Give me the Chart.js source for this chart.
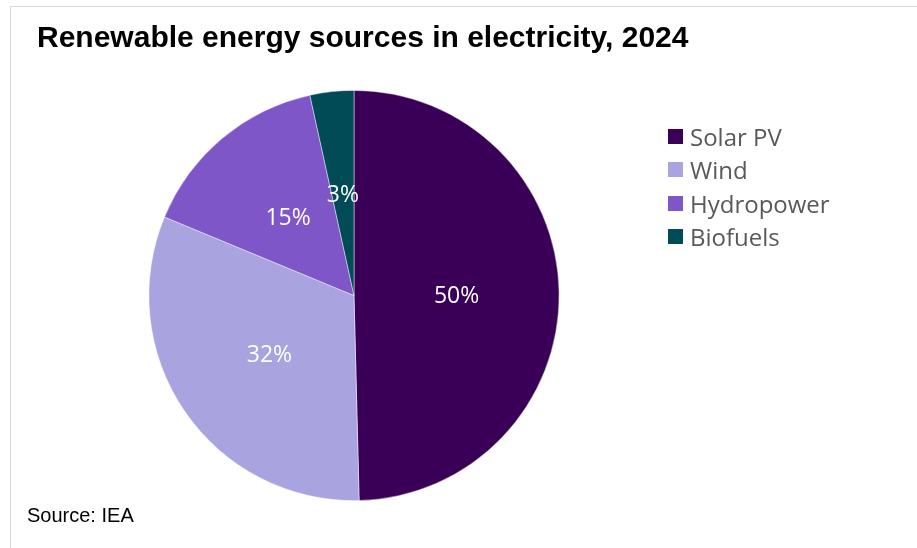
<!DOCTYPE html>
<html>
<head>
<meta charset="utf-8">
<script src="https://cdn.jsdelivr.net/npm/chart.js@4"></script>
<style>
  html, body { margin: 0; padding: 0; background: #fff; }
  #wrap { position: relative; width: 917px; height: 548px; overflow: hidden; }
  #frame { position: absolute; left: 10px; top: 6px; width: 940px; height: 600px; border: 1.5px solid #d9d9d9; box-sizing: border-box; }
  #title { position: absolute; left: 37px; top: 20px; font-family: "Liberation Sans", Arial, sans-serif; font-weight: bold; font-size: 30px; color: #000; white-space: nowrap; }
  #source { position: absolute; left: 27px; top: 504px; font-family: "Liberation Sans", Arial, sans-serif; font-size: 20px; color: #000; }
  #legend { position: absolute; left: 668px; top: 120px; font-family: "Open Sans", sans-serif; font-size: 24px; color: #595959; }
  .row { height: 33.3px; display: flex; align-items: center; }
  .sw { width: 15px; height: 15px; margin-right: 7px; }
  canvas { position: absolute; left: 0; top: 0; }
</style>
</head>
<body>
<div id="wrap">
  <div id="frame"></div>
  <canvas id="pieCanvas" width="917" height="548" style="width:917px;height:548px;"></canvas>
  <div id="title">Renewable energy sources in electricity, 2024</div>
  <div id="legend"></div>
  <div id="source">Source: IEA</div>
</div>
<script>
var categories = ['Solar PV', 'Wind', 'Hydropower', 'Biofuels'];
var shares = [49.6, 31.65, 15.3, 3.45];
var shareLabels = ['50%', '32%', '15%', '3%'];
var colors = ['#3a0057', '#a9a4e0', '#7f56c8', '#004b55'];

// legend built from the same arrays
var legendHtml = '';
for (var i in categories) {
  legendHtml += '<div class="row"><div class="sw" style="background:' + colors[i] + '"></div>' + categories[i] + '</div>';
}
document.getElementById('legend').innerHTML = legendHtml;

var innerLabels = {
  id: 'innerLabels',
  afterDatasetsDraw: function(chart) {
    var ctx = chart.ctx;
    var meta = chart.getDatasetMeta(0);
    ctx.save();
    ctx.fillStyle = '#ffffff';
    ctx.font = '23px "Open Sans", sans-serif';
    ctx.textAlign = 'center';
    ctx.textBaseline = 'middle';
    meta.data.forEach(function(arc, idx) {
      var p = arc.getProps(['x', 'y', 'startAngle', 'endAngle', 'outerRadius'], true);
      var mid = (p.startAngle + p.endAngle) / 2;
      var r = p.outerRadius * 0.5;
      ctx.fillText(shareLabels[idx], p.x + Math.cos(mid) * r, p.y + Math.sin(mid) * r + 2);
    });
    ctx.restore();
  }
};

var ctx = document.getElementById('pieCanvas').getContext('2d');
var myChart = new Chart(ctx, {
  type: 'pie',
  data: {
    labels: categories,
    datasets: [{
      data: shares,
      backgroundColor: colors,
      borderColor: 'rgba(255,255,255,0.6)',
      borderWidth: 0.75
    }]
  },
  options: {
    responsive: false,
    animation: false,
    layout: { padding: { left: 148, right: 357, top: 90, bottom: 47 } },
    plugins: {
      legend: { display: false },
      tooltip: { enabled: false },
      title: { display: false }
    }
  },
  plugins: [innerLabels]
});
</script>
</body>
</html>
